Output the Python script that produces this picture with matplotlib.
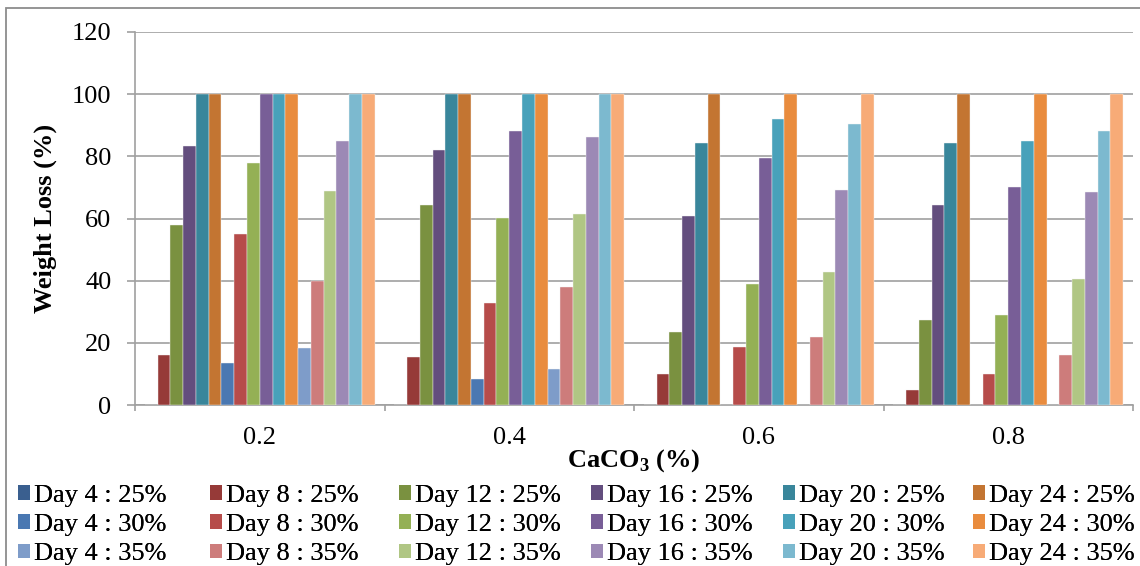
import matplotlib
matplotlib.use('Agg')
import matplotlib.pyplot as plt
import numpy as np
from matplotlib.patches import Rectangle, Patch

plt.rcParams['font.family'] = 'Liberation Serif'
plt.rcParams['mathtext.fontset'] = 'custom'
plt.rcParams['mathtext.rm'] = 'Liberation Serif'
plt.rcParams['mathtext.bf'] = 'Liberation Serif:bold'

#=====================================================================

caco3 = ['0.2', '0.4', '0.6', '0.8']
days = [4, 8, 12, 16, 20, 24]
concs = ['25%', '30%', '35%']

# rows = day 4..24, cols = CaCO3 0.2..0.8
loss_25 = [[0, 0, 0, 0],
           [16.0, 15.4, 10.1, 4.7],
           [57.9, 64.2, 23.4, 27.2],
           [83.4, 81.9, 60.7, 64.3],
           [100, 100, 84.3, 84.2],
           [100, 100, 100, 100]]

loss_30 = [[13.4, 8.4, 0, 0],
           [55.1, 32.8, 18.8, 9.9],
           [77.9, 60.2, 39.0, 28.8],
           [100, 88.1, 79.4, 70.2],
           [100, 100, 91.9, 84.9],
           [100, 100, 100, 100]]

loss_35 = [[18.4, 11.7, 0, 0],
           [39.9, 38.0, 22.0, 16.0],
           [68.7, 61.3, 42.8, 40.5],
           [84.9, 86.1, 69.1, 68.6],
           [100, 100, 90.5, 88.3],
           [100, 100, 100, 100]]

c25 = ['#3A5F8F', '#963A38', '#7A9140', '#634E7E', '#39869B', '#C37532']
c30 = ['#4A78B2', '#B64C4A', '#94B055', '#785E97', '#48A1BA', '#E98C3E']
c35 = ['#7E9CC9', '#CD7C7B', '#B0C684', '#9C89B5', '#7CB9CF', '#F7AB77']

#=====================================================================

W, H = 1140, 566
fig = plt.figure(figsize=(W/100, H/100), dpi=100)
ax = fig.add_axes([135/W, 1-405/H, 998/W, 373/H])

grid_c = '#A0A0A0'
fs = 19

x = np.arange(len(caco3))
bw = 0.0512
series = []
for data, cols, cc in zip([loss_25, loss_30, loss_35], [c25, c30, c35], concs):
    for d, vals, col in zip(days, data, cols):
        series.append(('Day %d : %s' % (d, cc), vals, col))

handles = []
for k, (lab, vals, col) in enumerate(series):
    off = (k - 8.5)*bw
    ax.bar(x + off, vals, bw, color=col, edgecolor='#F4F4F4', linewidth=0.3,
           label=lab, zorder=3)
    handles.append(Patch(facecolor=col, label=lab))

ax.set_xlim(-0.5, 3.5)
ax.set_ylim(0, 120)
ax.set_yticks(np.arange(0, 121, 20))
ax.yaxis.grid(True, color=grid_c, linewidth=1.2, zorder=0)
ax.set_axisbelow(True)

ax.set_xticks(x)
ax.set_xticklabels(caco3)
ax.set_xticks(np.arange(-0.5, 3.6, 1), minor=True)
ax.tick_params(axis='x', which='major', length=0, pad=16, labelsize=fs)
ax.tick_params(axis='x', which='minor', length=4, width=1.2, color=grid_c, direction='out')
ax.tick_params(axis='y', length=6, width=1.2, color=grid_c, pad=11, labelsize=fs)

for s in ['top', 'right']:
    ax.spines[s].set_visible(False)
for s in ['left', 'bottom']:
    ax.spines[s].set_color(grid_c)
    ax.spines[s].set_linewidth(1.2)

ax.set_xlabel(r'CaCO$_\mathbf{3}$ (%)', fontsize=fs, fontweight='bold', va='center')
ax.xaxis.set_label_coords(0.5, (405-461)/373)
ax.set_ylabel('Weight Loss (%)', fontsize=fs, fontweight='bold', va='center')
ax.yaxis.set_label_coords((45-135)/998, 0.5)

# legend, one block per day column so columns are evenly spaced like Excel
col_x = [18, 210, 399, 591, 783, 973]
for j in range(6):
    hs = [handles[i*6 + j] for i in range(3)]
    leg = fig.legend(handles=hs, loc='upper left', bbox_to_anchor=(col_x[j]/W, 1-485/H),
                     frameon=False, fontsize=fs, borderpad=0, borderaxespad=0,
                     labelspacing=0.27, handlelength=0.47, handleheight=0.47,
                     handletextpad=0.15)
    fig.add_artist(leg)

# outer chart border
fig.add_artist(Rectangle((6/W, -0.1), 1.2, (H-8)/H + 0.1, transform=fig.transFigure,
                         fill=False, edgecolor='#8C8C8C', linewidth=1.3))

fig.savefig('out.png', dpi=100)
